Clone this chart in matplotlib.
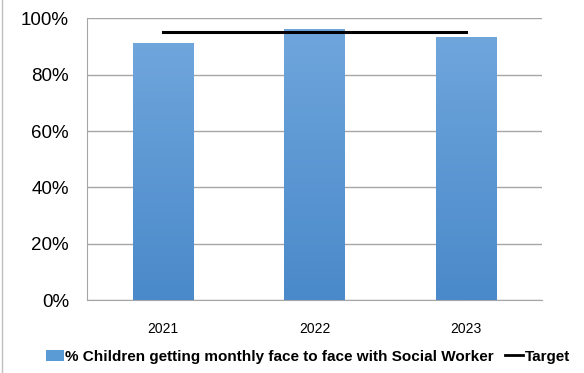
import numpy as np
import matplotlib
matplotlib.use("Agg")
import matplotlib.pyplot as plt
from matplotlib.patches import Patch
from matplotlib.lines import Line2D
from matplotlib.ticker import PercentFormatter

plt.rcParams['font.family'] = ['Liberation Sans', 'DejaVu Sans']

years = ['2021', '2022', '2023']
pct_seen = [91.2, 96.2, 93.4]
target = [95, 95, 95]

fig = plt.figure(figsize=(5.84, 3.73), dpi=100)
ax = fig.add_axes([0.149, 0.195, 0.779, 0.756])

x = np.arange(len(years))
bars = ax.bar(x, pct_seen, width=0.4, color='#5B9BD5', zorder=2)

# gradient fill, lighter at top
grad = np.linspace(0, 1, 256).reshape(-1, 1)
cmap = matplotlib.colors.LinearSegmentedColormap.from_list('b', ['#4A89CA', '#6FA6DC'])
for b in bars:
    im = ax.imshow(grad, cmap=cmap, origin='lower', aspect='auto',
                   extent=[b.get_x(), b.get_x() + b.get_width(), 0, b.get_height()], zorder=3)
    im.set_clip_path(b)

ax.plot(x, target, color='black', lw=2.2, zorder=4)

ax.set_xlim(-0.5, 2.5)
ax.set_ylim(0, 100)
ax.set_yticks(range(0, 101, 20))
ax.yaxis.set_major_formatter(PercentFormatter(decimals=0))
ax.set_xticks(x)
ax.set_xticklabels(years, fontsize=10)
ax.tick_params(axis='y', labelsize=13.5, length=0, pad=13)
ax.tick_params(axis='x', length=0, pad=16)
ax.grid(axis='y', color='#A6A6A6', lw=1, zorder=0)
for s in ['top', 'right']:
    ax.spines[s].set_visible(False)
for s in ['left', 'bottom']:
    ax.spines[s].set_color('#A6A6A6')

handles = [Patch(facecolor='#5B9BD5', edgecolor='none'),
           Line2D([], [], color='black', lw=2)]
fig.legend(handles, ['% Children getting monthly face to face with Social Worker', 'Target'],
           loc='center', bbox_to_anchor=(0.527, 0.043), ncol=2, frameon=False,
           prop={'weight': 'bold', 'size': 11}, handlelength=1.2, handleheight=0.75,
           handletextpad=0.1, columnspacing=0.7)

fig.add_artist(Line2D([0.004, 0.004], [0, 1], color='#BFBFBF', lw=1, transform=fig.transFigure))

fig.savefig('out.png', dpi=100)
